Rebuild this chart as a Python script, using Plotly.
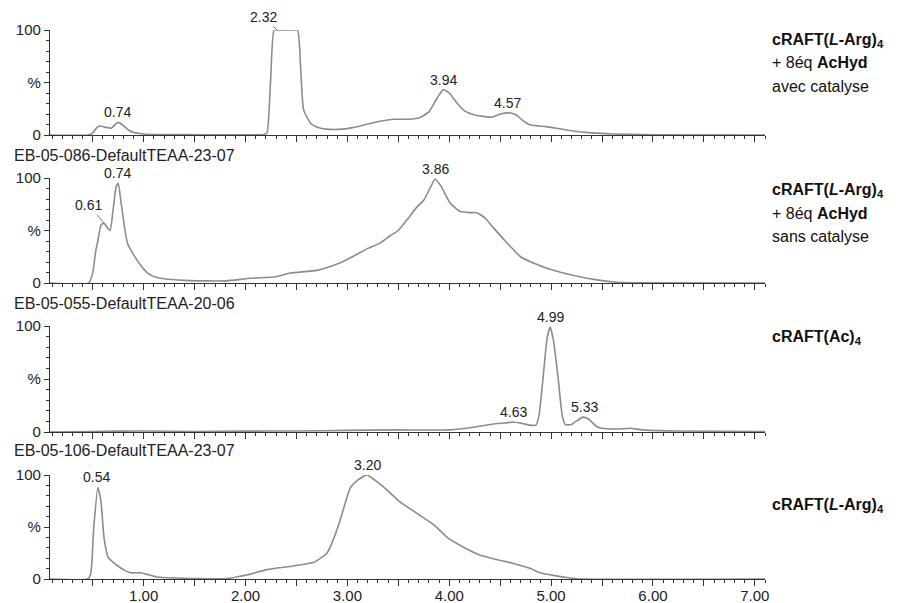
import plotly.graph_objects as go

# ---------------- data (retention time in min, intensity in %) ----------------
t1 = [0.08, 0.45, 0.5, 0.54, 0.57, 0.62, 0.68, 0.72, 0.75, 0.8, 0.86, 0.92, 1.0, 1.2, 1.6, 2.0,
      2.18, 2.21, 2.245, 2.28, 2.32, 2.45, 2.51, 2.54, 2.57, 2.64, 2.72, 2.83, 2.95, 3.05, 3.2,
      3.35, 3.45, 3.6, 3.72, 3.8, 3.88, 3.94, 4.0, 4.08, 4.15, 4.25, 4.35, 4.42, 4.5, 4.6, 4.66,
      4.72, 4.8, 4.95, 5.05, 5.2, 5.4, 5.6, 6.0, 7.1]
i1 = [0, 0, 2, 7, 8.5, 7.5, 6.5, 10, 12, 9, 4, 2, 1, 0.5, 0.3, 0.3,
      0.5, 2, 50, 100, 100, 100, 100, 65, 24, 11, 7, 5.4, 5.6, 7, 10.5,
      13.5, 15, 15, 17, 22, 35, 43, 40, 30, 23, 19, 17.5, 17, 20, 21, 19,
      14, 9.5, 8, 6.5, 4, 2, 1, 0.3, 0]

t2 = [0.08, 0.46, 0.5, 0.53, 0.55, 0.58, 0.61, 0.64, 0.67, 0.7, 0.73, 0.75, 0.78, 0.84, 0.9, 0.97,
      1.04, 1.12, 1.2, 1.4, 1.6, 1.8, 2.05, 2.3, 2.44, 2.7, 2.9, 3.05, 3.2, 3.32, 3.42, 3.5, 3.6,
      3.68, 3.75, 3.82, 3.86, 3.92, 4.01, 4.11, 4.2, 4.27, 4.35, 4.43, 4.55, 4.7, 4.85, 4.96, 5.1,
      5.28, 5.45, 5.61, 5.8, 7.1]
i2 = [0, 0, 10, 31, 40, 55, 57, 53, 50, 70, 92, 95, 75, 38, 27, 17,
      9.5, 5.5, 4, 2.5, 2, 2, 4.5, 6, 9.5, 12, 18, 25, 33, 38, 45, 50, 62,
      72, 79, 92, 99, 92, 76, 68, 67, 67, 62, 53, 40, 25, 18, 14, 10,
      6, 3, 1, 0.3, 0]

t3 = [0.08, 0.5, 1.0, 1.5, 2.0, 2.5, 3.0, 3.5, 4.0, 4.24, 4.4, 4.47, 4.55, 4.63, 4.72, 4.79,
      4.85, 4.88, 4.92, 4.96, 4.99, 5.02, 5.07, 5.11, 5.14, 5.2, 5.26, 5.31, 5.37, 5.45, 5.55,
      5.7, 5.78, 5.9, 6.2, 7.1]
i3 = [0, 0.5, 1, 0.5, 0.8, 1, 1.5, 2, 2, 4.5, 7, 8, 8.5, 9.5, 8, 6.5,
      6.5, 15, 50, 88, 99, 88, 50, 15, 7, 7, 11, 14, 12, 5, 3,
      3, 3.5, 2, 1, 0.5]

t4 = [0.08, 0.45, 0.48, 0.51, 0.55, 0.58, 0.61, 0.65, 0.7, 0.74, 0.8, 0.87, 0.97, 1.05, 1.13,
      1.3, 1.5, 1.82, 2.02, 2.21, 2.47, 2.67, 2.8, 2.87, 2.93, 3.03, 3.1, 3.19, 3.27, 3.36, 3.52,
      3.7, 3.85, 3.98, 4.15, 4.3, 4.45, 4.63, 4.8, 4.89, 5.05, 5.19, 5.3, 7.1]
i4 = [0, 0, 5, 50, 88, 75, 40, 21, 16, 13, 9, 6, 6, 4, 2,
      1, 0.5, 0.5, 4, 9, 12.5, 16, 25, 40, 57, 88, 95, 100, 95, 88, 74,
      62, 52, 40, 30, 23, 19, 15, 10, 6, 3, 1, 0, 0]

times = [t1, t2, t3, t4]
intens = [i1, i2, i3, i4]

run_names = ["", "EB-05-086-DefaultTEAA-23-07", "EB-05-055-DefaultTEAA-20-06",
             "EB-05-106-DefaultTEAA-23-07"]

# peak labels: (panel, time, intensity)
peak_labels = [
    (0, 0.74, 12), (0, 3.94, 43), (0, 4.57, 21),
    (1, 0.74, 95), (1, 3.86, 99),
    (2, 4.99, 99), (2, 4.63, 9.5), (2, 5.33, 14),
    (3, 0.54, 88), (3, 3.20, 100),
]
# peak labels with a leader line: (panel, label, tip time, tip intensity, dx, dy)
leader_labels = [
    (0, "2.32", 2.31, 100, -14, -13),
    (1, "0.61", 0.61, 57, -15, -18),
]

sample_labels = [
    ["<b>cRAFT(<i>L</i>-Arg)<sub>4</sub></b>", "+ 8éq <b>AcHyd</b>", "avec catalyse"],
    ["<b>cRAFT(<i>L</i>-Arg)<sub>4</sub></b>", "+ 8éq <b>AcHyd</b>", "sans catalyse"],
    ["<b>cRAFT(Ac)<sub>4</sub></b>"],
    ["<b>cRAFT(<i>L</i>-Arg)<sub>4</sub></b>"],
]

x_labels = [1.0, 2.0, 3.0, 4.0, 5.0, 6.0, 7.0]
x_label_text = [f"{v:.2f}" for v in x_labels]

# ---------------- layout helpers ----------------
W, H = 899, 603
FONT = "Arial, Liberation Sans, sans-serif"
panel_px = [(30, 135), (178, 283), (326, 432), (475, 579)]
title_py = [None, 155, 303, 450]
label_py = [[40, 63, 86], [190, 213, 236], [337], [505]]
x_left, x_right = 50, 765
XR = [0.08, 7.1]
AX = "#333"
TXT = "#222"

fig = go.Figure()
layout = dict(
    width=W, height=H, autosize=False,
    margin=dict(l=0, r=0, t=0, b=0, autoexpand=False),
    paper_bgcolor="white", plot_bgcolor="white",
    showlegend=False,
    font=dict(family=FONT, color=TXT),
)
annotations = []

for k in range(4):
    xa = "x" if k == 0 else f"x{k+1}"
    ya = "y" if k == 0 else f"y{k+1}"
    xkey = "xaxis" if k == 0 else f"xaxis{k+1}"
    ykey = "yaxis" if k == 0 else f"yaxis{k+1}"
    top, bot = panel_px[k]
    # bottom panel trace is drawn on the labelled overlay axis (same range)
    trace_x = "x5" if k == 3 else xa
    fig.add_trace(go.Scatter(
        x=times[k], y=intens[k], mode="lines", xaxis=trace_x, yaxis=ya,
        line=dict(color="#8c8c8c", width=1.6, shape="spline", smoothing=0.5),
        cliponaxis=False, hoverinfo="skip"))
    layout[xkey] = dict(
        domain=[x_left / W, x_right / W], range=XR, anchor=ya, automargin=False,
        showgrid=False, zeroline=False, showline=True, linecolor=AX, linewidth=1.2,
        tickmode="linear", tick0=0, dtick=0.5,
        ticks="outside", ticklen=6, tickcolor=AX, tickwidth=1,
        showticklabels=False,
        minor=dict(tickmode="linear", tick0=0, dtick=0.1, ticks="outside", ticklen=3,
                   tickcolor=AX, tickwidth=1),
    )
    layout[ykey] = dict(
        domain=[1 - bot / H, 1 - top / H], range=[0, 100], anchor=xa, automargin=False,
        showgrid=False, zeroline=False, showline=True, linecolor=AX, linewidth=1.2,
        tickmode="array", tickvals=[0, 50, 100], ticktext=["0", "%", "100"],
        ticks="outside", ticklen=5, tickcolor=AX, tickwidth=1,
        tickfont=dict(size=15, color=TXT, family=FONT),
        minor=dict(tickmode="linear", tick0=0, dtick=10, ticks="outside", ticklen=3,
                   tickcolor=AX, tickwidth=1),
    )
    if run_names[k]:
        annotations.append(dict(
            xref="paper", yref="paper", x=12 / W, y=1 - title_py[k] / H,
            xanchor="left", yanchor="middle", text=run_names[k], showarrow=False,
            font=dict(size=16, color=TXT, family=FONT)))
    for j, line in enumerate(sample_labels[k]):
        annotations.append(dict(
            xref="paper", yref="paper", x=770 / W, y=1 - label_py[k][j] / H,
            xanchor="left", yanchor="middle", text=line, showarrow=False,
            font=dict(size=16, color="#111", family=FONT)))

# labelled overlay axis for the bottom panel (integer times only)
layout["xaxis5"] = dict(
    domain=[x_left / W, x_right / W], range=XR, anchor="y4", overlaying="x4",
    automargin=False, showgrid=False, zeroline=False, showline=False,
    tickmode="array", tickvals=x_labels, ticktext=x_label_text,
    ticks="outside", ticklen=6, tickcolor=AX, tickwidth=1,
    ticklabelstandoff=-3,
    tickfont=dict(size=15, color=TXT, family=FONT),
)

for (k, t, v) in peak_labels:
    xa = "x" if k == 0 else f"x{k+1}"
    ya = "y" if k == 0 else f"y{k+1}"
    annotations.append(dict(
        xref=xa, yref=ya, x=t, y=v, text=f"{t:.2f}", showarrow=False,
        xanchor="center", yanchor="bottom",
        font=dict(size=14, color=TXT, family=FONT)))

for (k, txt, t, v, dx, dy) in leader_labels:
    xa = "x" if k == 0 else f"x{k+1}"
    ya = "y" if k == 0 else f"y{k+1}"
    annotations.append(dict(
        xref=xa, yref=ya, x=t, y=v, text=txt, showarrow=True,
        arrowhead=0, arrowwidth=1, arrowcolor="#777", ax=dx, ay=dy,
        standoff=0, startstandoff=0,
        font=dict(size=14, color=TXT, family=FONT)))

layout["annotations"] = annotations
fig.update_layout(**layout)
fig.write_html("out.html", config={"displayModeBar": False},
               post_script="document.body.style.margin='0px';")
